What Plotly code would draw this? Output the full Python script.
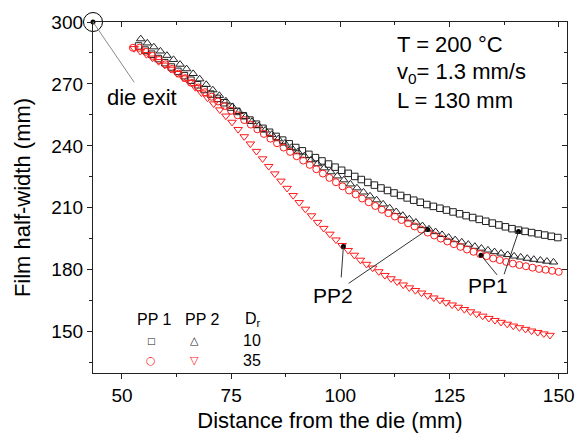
import plotly.graph_objects as go

FONT = "Liberation Sans, Arial, sans-serif"

# ---- data: PP1 (squares), D_r = 10
pp1_d10_x = [53.8, 55.3, 56.8, 58.3, 59.8, 61.3, 62.8, 64.3, 65.8, 67.3, 68.8, 70.3, 71.8, 73.3, 74.8,
             76.3, 77.8, 79.3, 80.8, 82.3, 83.8, 85.3, 86.8, 88.3, 89.8, 91.3, 92.8, 94.3, 95.8, 97.3,
             98.8, 100.3, 101.8, 103.3, 104.8, 106.3, 107.8, 109.3, 110.8, 112.3, 113.8, 115.3, 116.8,
             118.3, 119.8, 121.3, 122.8, 124.3, 125.8, 127.3, 128.8, 130.3, 131.8, 133.3, 134.8, 136.3,
             137.8, 139.3, 140.8, 142.3, 143.8, 145.3, 146.8, 148.3, 149.8]
pp1_d10_y = [288.4, 286.4, 284.4, 282.3, 280.3, 278.2, 276.1, 274.0, 271.8, 269.6, 267.3, 265.1, 263.0,
             260.9, 258.8, 256.7, 254.6, 252.5, 250.5, 248.5, 246.6, 244.6, 242.8, 241.0, 239.2, 237.6,
             235.9, 234.3, 232.7, 231.2, 229.7, 228.2, 226.7, 225.2, 223.7, 222.3, 221.0, 219.6, 218.4,
             217.2, 216.0, 214.8, 213.7, 212.7, 211.6, 210.7, 209.8, 208.9, 208.0, 207.1, 206.2, 205.3,
             204.4, 203.5, 202.6, 201.7, 200.8, 199.9, 199.2, 198.6, 198.0, 197.4, 196.8, 196.2, 195.6]

# ---- data: PP2 (up triangles), D_r = 10
pp2_d10_x = [54.3, 55.8, 57.3, 58.8, 60.3, 61.8, 63.3, 64.8, 66.3, 67.8, 69.3, 70.8, 72.3, 73.8, 75.3,
             76.8, 78.3, 79.8, 81.3, 82.8, 84.3, 85.8, 87.3, 88.8, 90.3, 91.8, 93.3, 94.8, 96.3, 97.8,
             99.3, 100.8, 102.3, 103.8, 105.3, 106.8, 108.3, 109.8, 111.3, 112.8, 114.3, 115.8, 117.3,
             118.8, 120.3, 121.8, 123.3, 124.8, 126.3, 127.8, 129.3, 130.8, 132.3, 133.8, 135.3, 136.8,
             138.3, 139.8, 141.3, 142.8, 144.3, 145.8, 147.3, 148.8]
pp2_d10_y = [291.8, 289.8, 287.9, 285.9, 283.8, 281.8, 279.5, 277.3, 275.0, 272.4, 269.7, 267.1, 264.4,
             261.7, 259.0, 256.6, 254.2, 251.8, 249.7, 247.6, 245.5, 243.4, 241.3, 239.2, 237.1, 235.2,
             233.2, 231.3, 229.3, 227.4, 225.4, 223.5, 221.5, 219.6, 217.6, 215.7, 213.8, 211.8, 209.9,
             208.1, 206.3, 204.6, 203.0, 201.3, 199.7, 198.4, 197.0, 195.7, 194.5, 193.4, 192.3, 191.3,
             190.4, 189.5, 188.7, 188.0, 187.3, 186.6, 186.1, 185.5, 185.0, 184.6, 184.1, 183.7]

# ---- data: PP1 (circles), D_r = 35
pp1_d35_x = [52.5, 54.0, 55.5, 57.0, 58.5, 60.0, 61.5, 63.0, 64.5, 66.0, 67.5, 69.0, 70.5, 72.0, 73.5,
             75.0, 76.5, 78.0, 79.5, 81.0, 82.5, 84.0, 85.5, 87.0, 88.5, 90.0, 91.5, 93.0, 94.5, 96.0,
             97.5, 99.0, 100.5, 102.0, 103.5, 105.0, 106.5, 108.0, 109.5, 111.0, 112.5, 114.0, 115.5,
             117.0, 118.5, 120.0, 121.5, 123.0, 124.5, 126.0, 127.5, 129.0, 130.5, 132.0, 133.5, 135.0,
             136.5, 138.0, 139.5, 141.0, 142.5, 144.0, 145.5, 147.0, 148.5, 150.0]
pp1_d35_y = [287.5, 287.5, 285.6, 283.6, 281.6, 279.5, 277.3, 275.0, 272.8, 270.5, 268.3, 266.0, 263.8,
             261.5, 259.3, 257.0, 254.8, 252.5, 250.3, 248.0, 245.8, 243.5, 241.3, 239.2, 237.1, 235.0,
             232.9, 230.8, 228.7, 226.6, 224.5, 222.4, 220.4, 218.4, 216.5, 214.5, 212.7, 210.9, 209.1,
             207.4, 205.8, 204.1, 202.5, 201.0, 199.5, 198.0, 196.6, 195.1, 193.7, 192.4, 191.1, 189.8,
             188.7, 187.6, 186.6, 185.5, 184.7, 183.8, 183.0, 182.3, 181.7, 181.0, 180.4, 180.0, 179.5,
             179.0]

# ---- data: PP2 (down triangles), D_r = 35
pp2_d35_x = [52.8, 54.2, 55.6, 57.0, 58.4, 59.8, 61.2, 62.6, 64.0, 65.4, 66.8, 68.2, 69.6, 71.0, 72.4,
             73.8, 75.2, 76.6, 78.0, 79.4, 80.8, 82.2, 83.6, 85.0, 86.4, 87.8, 89.2, 90.6, 92.0, 93.4,
             94.8, 96.2, 97.6, 99.0, 100.4, 101.8, 103.2, 104.6, 106.0, 107.4, 108.8, 110.2, 111.6,
             113.0, 114.4, 115.8, 117.2, 118.6, 120.0, 121.4, 122.8, 124.2, 125.6, 127.0, 128.4, 129.8,
             131.2, 132.6, 134.0, 135.4, 136.8, 138.2, 139.6, 141.0, 142.4, 143.8, 145.2, 146.6, 148.0]
pp2_d35_y = [287.2, 285.8, 284.3, 282.6, 280.9, 279.2, 277.2, 275.1, 273.0, 270.8, 268.3, 265.7, 263.2,
             260.4, 257.5, 254.5, 251.5, 248.0, 244.5, 241.0, 237.4, 233.8, 230.1, 226.5, 223.0, 219.5,
             216.0, 212.6, 209.4, 206.2, 203.0, 200.1, 197.3, 194.5, 191.8, 189.4, 187.1, 184.7, 182.7,
             180.9, 179.1, 177.3, 175.7, 174.2, 172.7, 171.3, 170.0, 168.8, 167.5, 166.4, 165.3, 164.1,
             163.0, 161.9, 160.8, 159.7, 158.6, 157.6, 156.5, 155.5, 154.6, 153.7, 152.8, 152.0, 151.2,
             150.4, 149.7, 149.0, 148.3]

# ---- die exit point and marked points (PP1 / PP2 labels)
die_exit_x = [43.37]
die_exit_y = [300.0]
pp1_mark_x = [132.2, 140.8]
pp1_mark_y = [187.0, 198.5]
pp2_mark_x = [100.7, 120.0]
pp2_mark_y = [191.3, 199.5]

x_range = [43.37, 151.9]
y_range = [130, 300]

fig = go.Figure()

def series(x, y, symbol, color, size):
    fig.add_trace(go.Scatter(x=x, y=y, mode="markers",
                             marker=dict(symbol=symbol, size=size, color=color,
                                         line=dict(color=color, width=1)),
                             showlegend=False, hoverinfo="skip"))

series(pp1_d10_x, pp1_d10_y, "square-open", "#222222", 6.5)
series(pp2_d10_x, pp2_d10_y, "triangle-up-open", "#222222", 7.5)
series(pp1_d35_x, pp1_d35_y, "circle-open", "#ff1a1a", 7)
series(pp2_d35_x, pp2_d35_y, "triangle-down-open", "#ff1a1a", 7.5)

# leader lines
line_style = dict(color="#333333", width=1)
fig.add_shape(type="line", x0=die_exit_x[0], y0=die_exit_y[0], x1=52.8, y1=270.8,
              line=dict(color="#8a8a8a", width=1))
fig.add_shape(type="line", x0=100.2, y0=176.3, x1=pp2_mark_x[0], y1=pp2_mark_y[0], line=line_style)
fig.add_shape(type="line", x0=101.9, y0=173.4, x1=pp2_mark_x[1], y1=pp2_mark_y[1], line=line_style)
fig.add_shape(type="line", x0=135.9, y0=177.5, x1=pp1_mark_x[0], y1=pp1_mark_y[0], line=line_style)
fig.add_shape(type="line", x0=137.5, y0=177.8, x1=pp1_mark_x[1], y1=pp1_mark_y[1], line=line_style)

fig.add_trace(go.Scatter(x=pp1_mark_x + pp2_mark_x, y=pp1_mark_y + pp2_mark_y, mode="markers",
                         marker=dict(symbol="circle", size=5, color="black"),
                         showlegend=False, hoverinfo="skip"))
fig.add_trace(go.Scatter(x=die_exit_x, y=die_exit_y, mode="markers",
                         marker=dict(symbol="circle-open", size=19, color="black",
                                     line=dict(color="black", width=1)),
                         cliponaxis=False, showlegend=False, hoverinfo="skip"))
fig.add_trace(go.Scatter(x=die_exit_x, y=die_exit_y, mode="markers",
                         marker=dict(symbol="circle", size=5, color="black"),
                         cliponaxis=False, showlegend=False, hoverinfo="skip"))

# invisible trace to activate top/right tick axes
fig.add_trace(go.Scatter(x=[None], y=[None], xaxis="x2", yaxis="y2", showlegend=False,
                         hoverinfo="skip"))

ann = []
def text(x, y, s, size=22, xref="x", yref="y", xanchor="center", color="black", family=FONT):
    ann.append(dict(x=x, y=y, xref=xref, yref=yref, text=s, showarrow=False,
                    xanchor=xanchor, yanchor="middle", font=dict(family=family, size=size, color=color)))

text(0.6376, 0.936, "T = 200 °C", xref="paper", yref="paper", xanchor="left")
text(0.6376, 0.854, "v<sub>0</sub>= 1.3 mm/s", xref="paper", yref="paper", xanchor="left")
text(0.6376, 0.776, "L = 130 mm", xref="paper", yref="paper", xanchor="left")
text(54.6, 263.5, "die exit")
text(98.4, 167.4, "PP2", size=21)
text(133.9, 172.3, "PP1", size=21)

# custom legend
leg_hdr_y = 0.1535
leg_r1_y = 0.0915
leg_r2_y = 0.035
text(0.129, leg_hdr_y, "PP 1", size=16, xref="paper", yref="paper")
text(0.232, leg_hdr_y, "PP 2", size=16, xref="paper", yref="paper")
text(0.337, leg_hdr_y, "D<sub>r</sub>", size=16, xref="paper", yref="paper")
text(0.1225, leg_r1_y, "□", size=9, xref="paper", yref="paper", color="#222222",
     family="DejaVu Sans")
text(0.2135, leg_r1_y, "△", size=11, xref="paper", yref="paper", color="#222222",
     family="DejaVu Sans")
text(0.336, leg_r1_y, "10", size=16, xref="paper", yref="paper")
text(0.1225, leg_r2_y, "○", size=11, xref="paper", yref="paper", color="#ff1a1a",
     family="DejaVu Sans")
text(0.2135, leg_r2_y, "▽", size=11, xref="paper", yref="paper", color="#ff1a1a",
     family="DejaVu Sans")
text(0.336, leg_r2_y, "35", size=16, xref="paper", yref="paper")

axcol = "#222222"
common = dict(showgrid=False, zeroline=False, tickcolor=axcol, tickwidth=1.2)

fig.update_layout(
    width=586, height=440, autosize=False,
    margin=dict(l=93, r=12, t=21, b=65, pad=0),
    paper_bgcolor="white", plot_bgcolor="white",
    font=dict(family=FONT, color="black"),
    showlegend=False,
    annotations=ann,
    xaxis=dict(range=x_range, tickmode="linear", tick0=50, dtick=25, ticks="outside", ticklen=5,
               showline=True, linecolor=axcol, linewidth=1.3, mirror=True,
               minor=dict(ticks="outside", tick0=50, dtick=12.5, ticklen=3, tickcolor=axcol, tickwidth=1.2),
               tickfont=dict(size=19, color="black"),
               title=dict(text="Distance from the die (mm)", font=dict(size=22, color="black"), standoff=7),
               **common),
    yaxis=dict(range=y_range, tickmode="linear", tick0=150, dtick=30, ticks="outside", ticklen=5,
               showline=True, linecolor=axcol, linewidth=1.3, mirror=True,
               minor=dict(ticks="outside", tick0=150, dtick=15, ticklen=3, tickcolor=axcol, tickwidth=1.2),
               tickfont=dict(size=19, color="black"),
               title=dict(text="Film half-width (mm)", font=dict(size=22, color="black"), standoff=14),
               **common),
    xaxis2=dict(range=x_range, overlaying="x", side="top", anchor="y", tickmode="linear", tick0=50,
                dtick=25, ticks="inside", ticklen=5, showticklabels=False, showline=False,
                minor=dict(ticks="inside", tick0=50, dtick=12.5, ticklen=3, tickcolor=axcol, tickwidth=1.2),
                **common),
    yaxis2=dict(range=y_range, overlaying="y", side="right", anchor="x", tickmode="linear", tick0=150,
                dtick=30, ticks="inside", ticklen=5, showticklabels=False, showline=False,
                minor=dict(ticks="inside", tick0=150, dtick=15, ticklen=3, tickcolor=axcol, tickwidth=1.2),
                **common),
)

fig.write_html("out.html")
